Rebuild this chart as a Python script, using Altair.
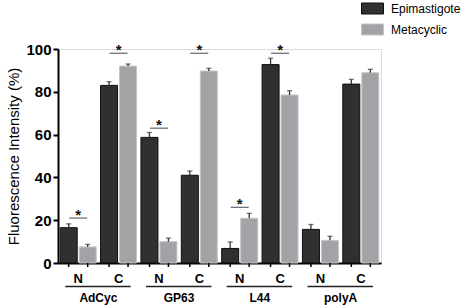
import altair as alt
import pandas as pd

genes = ["AdCyc", "GP63", "L44", "polyA"]
regions = ["N", "C"]
stages = ["Epimastigote", "Metacyclic"]
# order: AdCyc N, AdCyc C, GP63 N, GP63 C, L44 N, L44 C, polyA N, polyA C
epi_mean = [16.5, 83.0, 58.7, 41.0, 6.8, 92.7, 15.7, 83.6]
epi_err = [1.8, 1.7, 2.3, 2.0, 3.0, 3.0, 2.3, 2.2]
meta_mean = [7.5, 92.0, 10.0, 89.7, 20.9, 78.5, 10.6, 88.9]
meta_err = [1.2, 1.0, 1.6, 1.3, 2.3, 2.0, 1.9, 1.6]
sig_slot = ["AdCyc|N", "AdCyc|C", "GP63|N", "GP63|C", "L44|N", "L44|C"]
sig_height = [21, 98, 63, 98, 26, 98]
y_ticks = [0, 20, 40, 60, 80, 100]

slots = [f"{g}|{r}" for g in genes for r in regions]
rows = []
for i, s in enumerate(slots):
    rows.append(dict(slot=s, stage=stages[0], mean=epi_mean[i], top=epi_mean[i] + epi_err[i]))
    rows.append(dict(slot=s, stage=stages[1], mean=meta_mean[i], top=meta_mean[i] + meta_err[i]))
df = pd.DataFrame(rows)
sig_df = pd.DataFrame({"slot": sig_slot, "h": sig_height, "star": ["*"] * len(sig_slot)})
gene_df = pd.DataFrame({"slot": [g + "|N" for g in genes],
                        "slot2": [g + "|C" for g in genes], "gene": genes})

FONT = "Liberation Sans"
W, H = 323, 214

xscale = alt.Scale(domain=slots, paddingInner=0, paddingOuter=0)
oscale = alt.Scale(domain=stages, paddingInner=0.105, paddingOuter=0.116)
yscale = alt.Scale(domain=[0, 100], nice=False)

x_axis = alt.Axis(title=None, labelExpr="split(datum.label,'|')[1]", ticks=False,
                  labelAngle=0, labelFontSize=13, labelFontWeight="bold",
                  labelColor="black", labelPadding=9, domainColor="black",
                  domainWidth=2, labelFont=FONT)
y_axis = alt.Axis(title="Fluorescence Intensity (%)", values=y_ticks, grid=False,
                  labelFontSize=15, labelFontWeight="bold", labelColor="black",
                  labelFont=FONT, tickSize=5, tickWidth=2, tickColor="black",
                  domainColor="black", domainWidth=2, labelPadding=2,
                  titleFontSize=15, titleFontWeight="normal", titleColor="black",
                  titleFont=FONT, titlePadding=4)

x_enc = alt.X("slot:N", scale=xscale, axis=x_axis, sort=slots)
x_mid = alt.X("slot:N", scale=xscale, axis=x_axis, sort=slots, bandPosition=1)
off_enc = alt.XOffset("stage:N", scale=oscale)

legend = alt.Legend(title=None, orient="none", legendX=303, legendY=-52,
                    symbolType="M-1,-0.5H1V0.5H-1Z", symbolSize=484,
                    symbolStrokeWidth=1, labelFontSize=12, labelFont=FONT,
                    labelColor="black", labelOffset=7, rowPadding=2, padding=0,
                    symbolOpacity=1)

bars = alt.Chart(df).mark_bar(strokeWidth=1).encode(
    x=x_enc, xOffset=off_enc,
    y=alt.Y("mean:Q", scale=yscale, axis=y_axis),
    fill=alt.Fill("stage:N", scale=alt.Scale(domain=stages, range=["#303030", "#a3a3a7"]), legend=legend),
    stroke=alt.Stroke("stage:N", scale=alt.Scale(domain=stages, range=["#0d0d0d", "#c6c6c6"]), legend=legend),
)

err = alt.Chart(df).mark_rule(color="#333333", strokeWidth=1.3).encode(
    x=x_enc, xOffset=off_enc,
    y=alt.Y("mean:Q", scale=yscale, axis=y_axis), y2="top:Q")

caps = alt.Chart(df).mark_tick(orient="horizontal", size=5, thickness=1.3, color="#333333").encode(
    x=x_enc, xOffset=off_enc, y=alt.Y("top:Q", scale=yscale, axis=y_axis))

xticks = alt.Chart(df).mark_rule(color="black", strokeWidth=1.5).encode(
    x=x_enc, xOffset=off_enc, y=alt.value(H), y2=alt.value(H + 4))

sig = alt.Chart(sig_df).mark_tick(orient="horizontal", size=18, thickness=1.3, color="#333333").encode(
    x=x_enc, y=alt.Y("h:Q", scale=yscale, axis=y_axis))

stars = alt.Chart(sig_df).mark_text(fontSize=15, fontWeight="bold", font=FONT,
                                    baseline="alphabetic", dy=1.5, color="#111111").encode(
    x=x_enc, y=alt.Y("h:Q", scale=yscale, axis=y_axis), text="star:N")

under = alt.Chart(gene_df).mark_rule(color="#222222", strokeWidth=1.3).encode(
    x=alt.X("slot:N", scale=xscale, axis=x_axis, sort=slots, bandPosition=0.18),
    x2=alt.X2("slot2:N", bandPosition=0.8),
    y=alt.value(H + 23.5))

glabel = alt.Chart(gene_df).mark_text(fontSize=12, fontWeight="bold", font=FONT,
                                      baseline="middle", color="black").encode(
    x=x_mid, y=alt.value(H + 35), text="gene:N")

chart = alt.layer(bars, err, caps, xticks, sig, stars, under, glabel).properties(
    width=W, height=H,
    padding={"left": 58, "top": 49, "right": 80, "bottom": 44},
    autosize=alt.AutoSizeParams(type="none"),
).configure_view(stroke=None).configure(font=FONT, background="white")

chart.save("out.html", embed_options={"renderer": "svg", "actions": False})
